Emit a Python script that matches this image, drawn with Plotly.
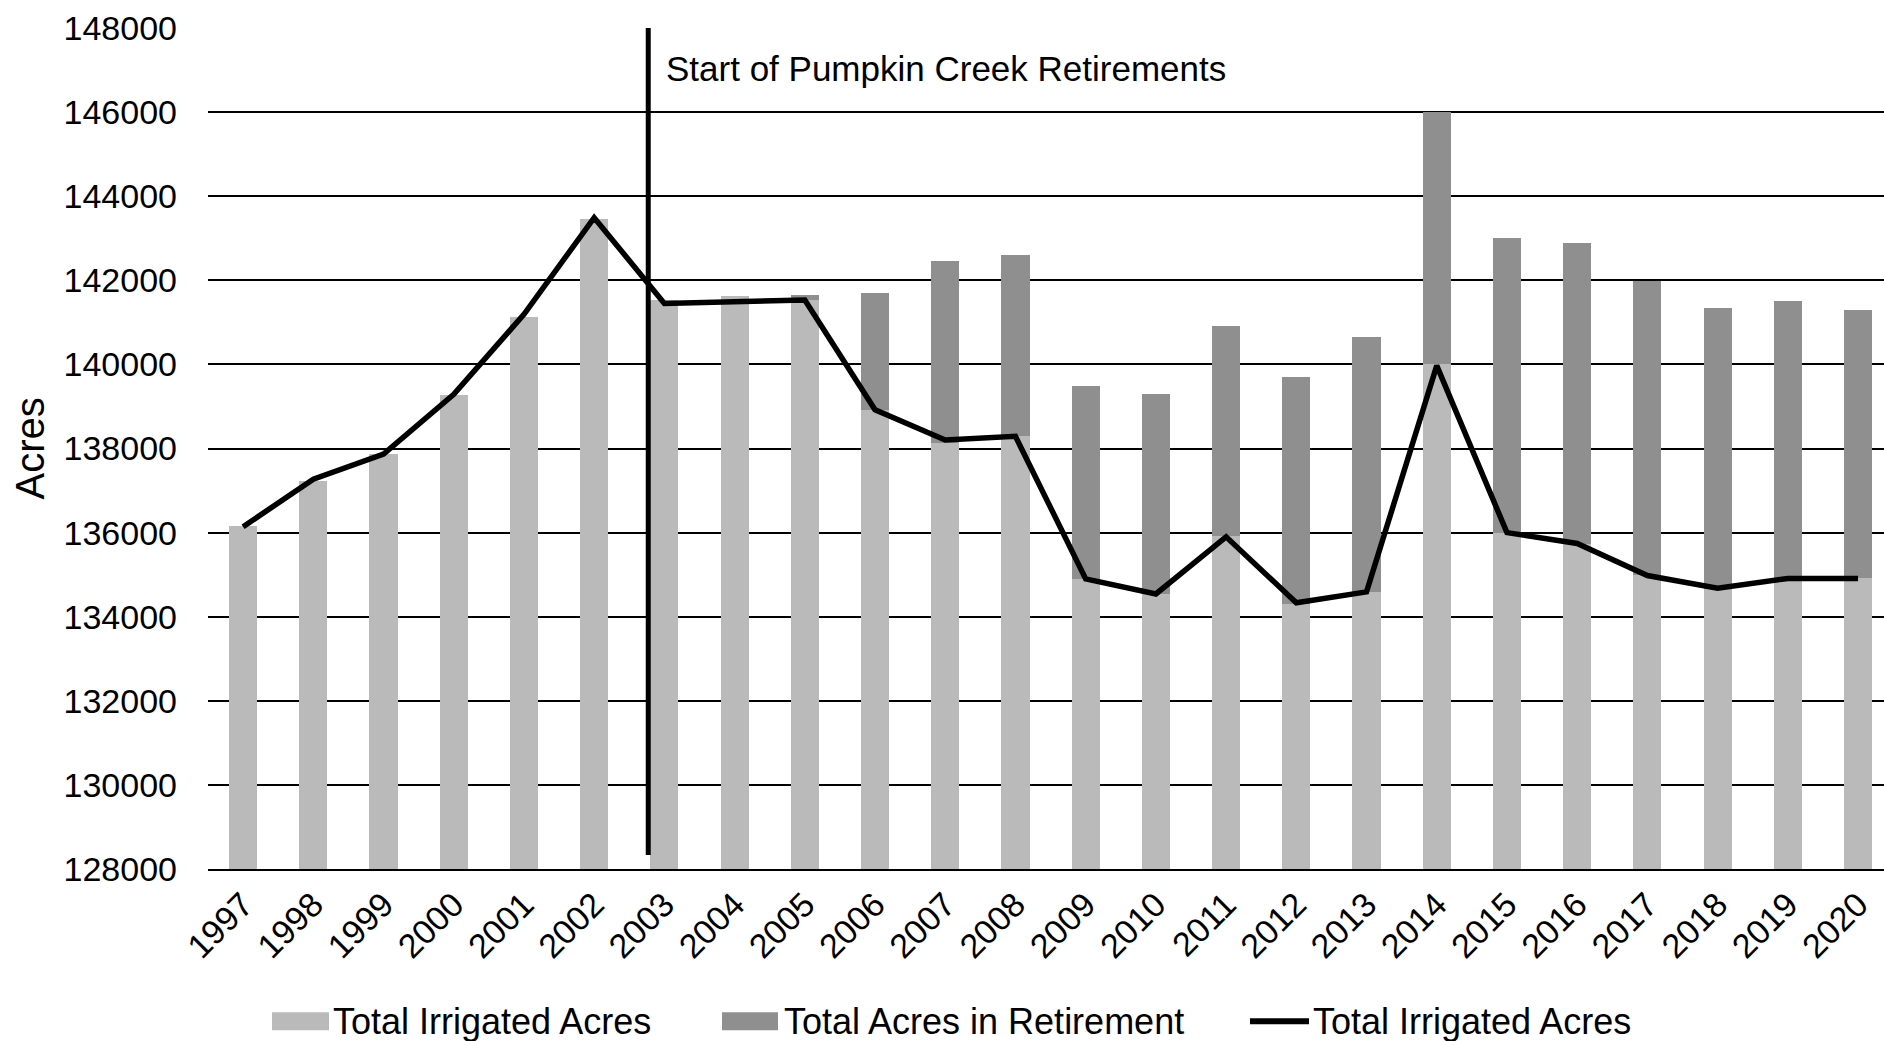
import plotly.graph_objects as go

# ---------------- data ----------------
years = list(range(1997, 2021))
year_labels = [str(y) for y in years]

irrigated_bar = [136160, 137230, 137860, 139270, 141130, 143450, 141540, 141620,
                 141530, 138920, 138130, 138290, 134890, 134540, 135920, 134310,
                 134590, 140000, 136000, 135730, 134980, 134660, 134910, 134910]

acres_retired = [0, 0, 0, 0, 0, 0, 0, 0,
                 110, 2770, 4320, 4320, 4600, 4760, 5000, 5400,
                 6070, 6000, 7010, 7150, 7010, 6680, 6590, 6390]

irrigated_line = [136140, 137270, 137870, 139290, 141190, 143490, 141450, 141490,
                  141530, 138920, 138200, 138290, 134900, 134540, 135900, 134330,
                  134590, 139970, 136000, 135740, 134980, 134680, 134910, 134910]

series_names = ["Total Irrigated Acres", "Total Acres in Retirement", "Total Irrigated Acres"]
y_ticks = list(range(128000, 148001, 2000))

retirement_start_x = 2002.77
retirement_line_y = [128330, 148000]
retirement_label = "Start of Pumpkin Creek Retirements"
retirement_label_pos = (2003.00, 147030)

# ---------------- style ----------------
LIGHT = "#BABABA"
DARK = "#8F8F8F"
FONT = "Arial, Liberation Sans, sans-serif"
FS = 34

W, H = 1884, 1041
ML, MR, MT, MB = 208, 0, 27.6, 172.3
PW = W - ML - MR
PH = H - MT - MB


def px_x(px):
    return (px - ML) / PW


def px_y(py):
    return (H - MB - py) / PH


fig = go.Figure()
fig.add_trace(go.Bar(x=years, y=irrigated_bar, name=series_names[0],
                     marker=dict(color=LIGHT, line=dict(width=0)), width=0.4))
fig.add_trace(go.Bar(x=years, y=acres_retired, name=series_names[1],
                     marker=dict(color=DARK, line=dict(width=0)), width=0.4))
fig.add_trace(go.Scatter(x=years, y=irrigated_line, name=series_names[2], mode="lines",
                         line=dict(color="black", width=5.5)))

fig.update_layout(
    width=W, height=H,
    barmode="stack",
    showlegend=False,
    plot_bgcolor="white", paper_bgcolor="white",
    margin=dict(l=ML, r=MR, t=MT, b=MB, autoexpand=False),
    font=dict(family=FONT, size=FS, color="black"),
)

fig.update_xaxes(
    range=[1996.5, 2020.37],
    tickmode="array", tickvals=years, ticktext=year_labels,
    tickangle=-45, ticks="", ticklabelstandoff=0,
    showgrid=False, zeroline=False,
    showline=True, linecolor="black", linewidth=2,
    tickfont=dict(family=FONT, size=FS, color="black"),
)
fig.update_yaxes(
    range=[128000, 148000],
    tickmode="array", tickvals=y_ticks, ticktext=[str(v) for v in y_ticks],
    ticks="", ticklabelstandoff=30,
    showgrid=True, gridcolor="black", gridwidth=2,
    zeroline=False, showline=False,
    tickfont=dict(family=FONT, size=FS, color="black"),
)

# vertical marker line
fig.add_shape(type="line", xref="x", yref="y",
              x0=retirement_start_x, x1=retirement_start_x,
              y0=retirement_line_y[0], y1=retirement_line_y[1],
              line=dict(color="black", width=5), layer="above")
fig.add_annotation(x=retirement_label_pos[0], y=retirement_label_pos[1], xref="x", yref="y",
                   text=retirement_label, showarrow=False, xanchor="left", yanchor="middle",
                   font=dict(family=FONT, size=35, color="black"))

# y-axis title
fig.add_annotation(x=px_x(29), y=0.5, xref="paper", yref="paper", text="Acres",
                   textangle=-90, showarrow=False, xanchor="center", yanchor="middle",
                   font=dict(family=FONT, size=40, color="black"))

# manual legend
LFS = 36
leg_y = 1021
for (x0, x1, color, tx, name) in [(272, 329, LIGHT, 331, series_names[0]),
                                  (722, 778, DARK, 782, series_names[1])]:
    fig.add_shape(type="rect", xref="paper", yref="paper",
                  x0=px_x(x0), x1=px_x(x1), y0=px_y(leg_y - 9), y1=px_y(leg_y + 9),
                  fillcolor=color, line=dict(width=0))
    fig.add_annotation(x=px_x(tx), y=px_y(leg_y), xref="paper", yref="paper", text=name,
                       showarrow=False, xanchor="left", yanchor="middle",
                       font=dict(family=FONT, size=LFS, color="black"))
fig.add_shape(type="line", xref="paper", yref="paper",
              x0=px_x(1250), x1=px_x(1309), y0=px_y(leg_y), y1=px_y(leg_y),
              line=dict(color="black", width=6))
fig.add_annotation(x=px_x(1311), y=px_y(leg_y), xref="paper", yref="paper", text=series_names[2],
                   showarrow=False, xanchor="left", yanchor="middle",
                   font=dict(family=FONT, size=LFS, color="black"))

fig.write_html("out.html",
               config={"displayModeBar": False},
               post_script="document.body.style.margin='0';document.body.style.overflow='hidden';")
